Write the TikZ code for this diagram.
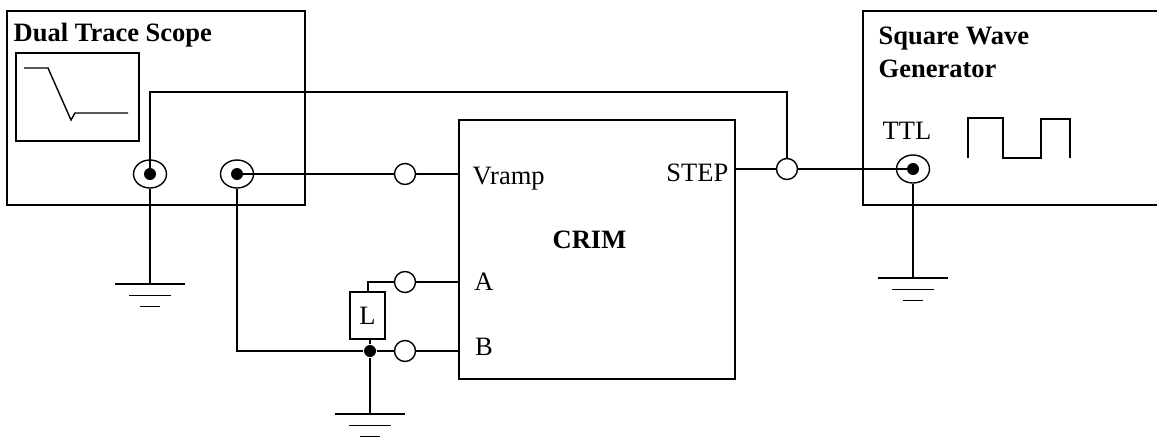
\documentclass[tikz,border=0pt]{standalone}
\usepackage{fontspec}
\setmainfont{Liberation Serif}
\usepackage{tikz}
\usetikzlibrary{shapes.geometric}

\begin{document}
\begin{tikzpicture}[x=1pt, y=-1pt, line width=1.4pt, every node/.style={font=\fontsize{26.5}{30}\selectfont},
    box/.style={draw, rectangle, inner sep=0pt},
    jack/.style={draw, ellipse, inner sep=0pt, minimum width=33pt, minimum height=28pt},
    jackdot/.style={circle, fill=black, inner sep=0pt, minimum size=12pt},
    term/.style={draw, circle, fill=white, inner sep=0pt, minimum size=21pt},
    title/.style={font=\fontsize{26.5}{33}\selectfont\bfseries, align=left, anchor=north west, inner sep=0pt}]
    \useasboundingbox (0,0) rectangle (1157,437);

    % instrument boxes
    \node[box, minimum width=298pt, minimum height=194pt] (scope) at (156,108) {};
    \node[box, minimum width=123pt, minimum height=88pt] (screen) at (77.5,97) {};
    \node[box, minimum width=276pt, minimum height=259pt] (crim) at (597,249.5) {};
    \draw (1157,11) -- (863,11) -- (863,205) -- (1157,205);

    % titles
    \node[title] (scopetitle) at (13,22) {Dual Trace Scope};
    \node[title] (gentitle) at (878,26) {Square Wave\\Generator};
    \node[font=\fontsize{26.5}{30}\selectfont\bfseries] (crimtitle) at (589.5,240) {CRIM};

    % scope trace and square wave
    \draw (24,68) -- (48,68) -- (71,120) -- (75,113) -- (128,113);
    \draw (968,158) -- (968,118) -- (1003,118) -- (1003,158) -- (1041,158) -- (1041,119) -- (1070,119) -- (1070,158);

    % jacks
    \node[jack] (jacka) at (150,174) {};
    \node[jack] (jackb) at (237,174) {};
    \node[jack] (jackc) at (913,169) {};
    \node[jackdot] (dota) at (jacka.center) {};
    \node[jackdot] (dotb) at (jackb.center) {};
    \node[jackdot] (dotc) at (jackc.center) {};
    \node (ttl) at (907,131) {TTL};

    % terminals
    \node[term] (termramp) at (405,174) {};
    \node[term] (terma) at (405,282) {};
    \node[term] (termb) at (405,351) {};
    \node[term] (termstep) at (787,169) {};

    % CRIM pins
    \coordinate (pinramp) at (459,174);
    \coordinate (pina) at (459,282);
    \coordinate (pinb) at (459,351);
    \coordinate (pinstep) at (736,169);
    \node[anchor=west, inner sep=0pt] (vramp) at (472,179) {Vramp};
    \node[anchor=east, inner sep=0pt] (steplabel) at (729,173) {STEP};
    \node (laba) at (484,282) {A};
    \node (labb) at (484,347) {B};

    % load
    \node[box, fill=white, minimum width=35pt, minimum height=47pt, text depth=0pt] (load) at (367.5,315.5) {L};
    \node[jackdot] (junction) at (370,351) {};

    % ground points
    \coordinate (gnda) at (150,284);
    \coordinate (gndb) at (370,414);
    \coordinate (gndc) at (913,278);

    % wires
    \draw (dota.center) -- (150,92) -| (termstep);
    \draw (dotb.center) -- (termramp) -- (pinramp);
    \draw (pinstep) -- (termstep) -- (dotc.center);
    \draw (jacka) -- (gnda);
    \draw (jackb) |- (junction);
    \draw (jackc) -- (gndc);
    \draw (junction) -- (termb) -- (pinb);
    \draw (junction) -- (gndb);
    \draw (junction.north) -- (junction.north |- load.south);
    \draw (load.north -| 368,0) |- (terma) -- (pina);

    % ground symbols
    \foreach \g in {gnda,gndb,gndc} {
        \draw ([xshift=-35pt]\g) -- ([xshift=35pt]\g);
        \draw ([xshift=-21pt,yshift=-11.5pt]\g) -- ([xshift=21pt,yshift=-11.5pt]\g);
        \draw ([xshift=-10pt,yshift=-22.5pt]\g) -- ([xshift=10pt,yshift=-22.5pt]\g);
    }
\end{tikzpicture}
\end{document}
